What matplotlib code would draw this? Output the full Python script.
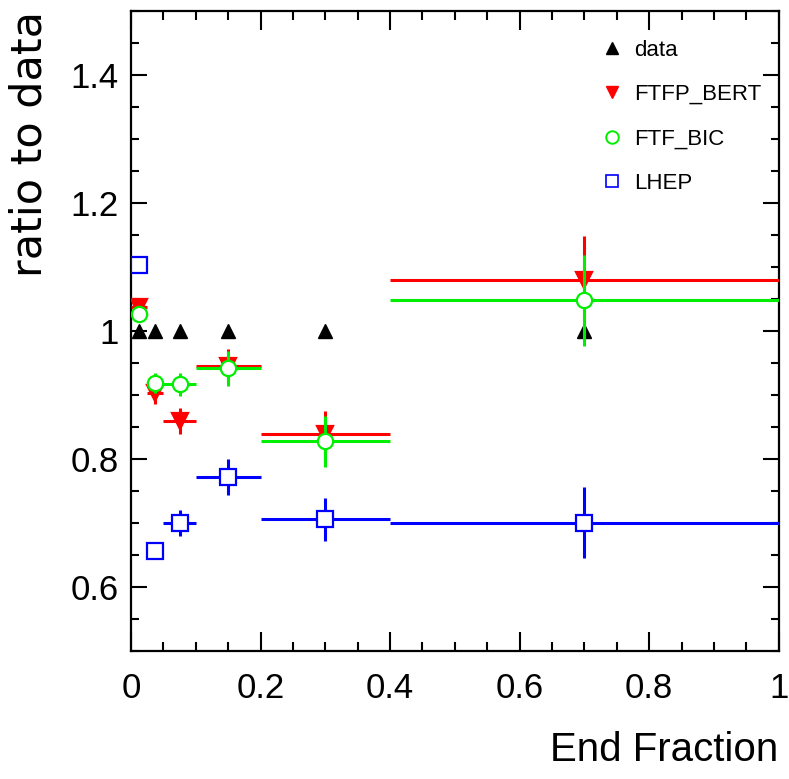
import matplotlib
matplotlib.use("Agg")
import matplotlib.pyplot as plt
from matplotlib.lines import Line2D
from matplotlib.ticker import MultipleLocator, FuncFormatter

# bin centres and half widths of the end fraction bins
x = [0.0125, 0.0375, 0.075, 0.15, 0.3, 0.7]
xerr = [0.0125, 0.0125, 0.025, 0.05, 0.1, 0.3]

data_ratio = [1.0, 1.0, 1.0, 1.0, 1.0, 1.0]

ftfp_bert = [1.038, 0.903, 0.860, 0.945, 0.840, 1.079]
ftfp_bert_err = [0.010, 0.017, 0.020, 0.027, 0.035, 0.070]

ftf_bic = [1.027, 0.919, 0.917, 0.942, 0.828, 1.048]
ftf_bic_err = [0.010, 0.015, 0.018, 0.027, 0.040, 0.071]

lhep = [1.103, 0.656, 0.700, 0.772, 0.706, 0.701]
lhep_err = [0.005, 0.010, 0.020, 0.028, 0.034, 0.055]

SANS = ["Liberation Sans", "DejaVu Sans"]

fig = plt.figure(figsize=(7.89, 7.79), dpi=100)
ax = fig.add_axes([0.166, 0.164, 0.821, 0.822])

ax.plot(x, data_ratio, ls="none", marker="^", ms=10, color="black", zorder=3)

series = [
    (ftfp_bert, ftfp_bert_err, "red", "v", "red"),
    (ftf_bic, ftf_bic_err, "#00ee00", "o", "white"),
    (lhep, lhep_err, "blue", "s", "white"),
]
for i, (vals, errs, col, mk, face) in enumerate(series):
    ax.errorbar(
        x, vals, yerr=errs, xerr=xerr, ls="none", color=col, elinewidth=2.2,
        capsize=0, marker=mk, ms=11, mfc=face, mec=col, mew=1.6, zorder=4 + i,
    )

ax.set_xlim(0, 1)
ax.set_ylim(0.5, 1.5)

ax.xaxis.set_major_locator(MultipleLocator(0.2))
ax.xaxis.set_minor_locator(MultipleLocator(0.05))
ax.yaxis.set_major_locator(MultipleLocator(0.2))
ax.yaxis.set_minor_locator(MultipleLocator(0.05))
fmt = FuncFormatter(lambda v, p: "%g" % round(v, 3))
ax.xaxis.set_major_formatter(fmt)
ax.yaxis.set_major_formatter(fmt)

ax.tick_params(which="both", direction="in", top=True, right=True, width=1.5)
ax.tick_params(axis="x", which="major", length=14, pad=15)
ax.tick_params(axis="x", which="minor", length=6.5)
ax.tick_params(axis="y", which="major", length=11.5, pad=9)
ax.tick_params(axis="y", which="minor", length=6)
for lab in ax.get_xticklabels() + ax.get_yticklabels():
    lab.set_family(SANS)
    lab.set_fontsize(25)
for s in ax.spines.values():
    s.set_linewidth(1.6)

ax.set_xlabel("End Fraction", family=SANS, fontsize=29)
ax.xaxis.set_label_coords(1.0, -0.125)
ax.xaxis.label.set_ha("right")
ax.set_ylabel("ratio to data", family="DejaVu Sans", fontsize=31)
ax.yaxis.label.set_rotation_mode("anchor")
ax.yaxis.label.set_ha("right")
ax.yaxis.label.set_va("center")
ax.yaxis.set_label_coords(-0.157, 1.0)

handles = [
    Line2D([], [], ls="none", marker="^", ms=8, color="black"),
    Line2D([], [], ls="none", marker="v", ms=8, color="red"),
    Line2D([], [], ls="none", marker="o", ms=9, mfc="white", mec="#00ee00", mew=1.4),
    Line2D([], [], ls="none", marker="s", ms=9, mfc="white", mec="blue", mew=1.2),
]
labels = ["data", "FTFP_BERT", "FTF_BIC", "LHEP"]
leg = ax.legend(
    handles, labels, loc="upper left", bbox_to_anchor=(0.725, 0.955),
    frameon=False, handlelength=1.0, handletextpad=0.5, labelspacing=1.05,
    borderpad=0, borderaxespad=0, prop={"family": SANS, "size": 16},
)

fig.savefig("out.png", dpi=100)
